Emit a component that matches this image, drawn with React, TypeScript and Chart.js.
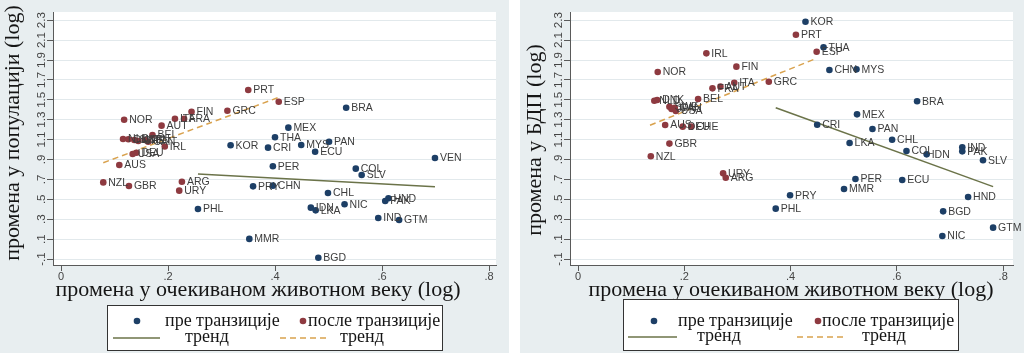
import React, { useEffect, useRef } from "react";
import { Chart, registerables } from "chart.js";

Chart.register(...registerables);

// ---------- shared axis ticks ----------
const yTickValues = [-0.1, 0.1, 0.3, 0.5, 0.7, 0.9, 1.1, 1.3, 1.5, 1.7, 1.9, 2.1, 2.3];
const yTickLabels = ["-.1", ".1", ".3", ".5", ".7", ".9", "1.1", "1.3", "1.5", "1.7", "1.9", "2.1", "2.3"];
const xTickValues = [0, 0.2, 0.4, 0.6, 0.8];
const xTickLabels = ["0", ".2", ".4", ".6", ".8"];

const xTitle = "промена у очекиваном животном веку (log)";
const legendBefore = "пре транзиције";
const legendAfter = "после транзиције";
const legendTrend = "тренд";

// ---------- left panel: population ----------
const popTitle = "промена у популацији (log)";
const popBeforeCodes = ["KOR", "BRA", "MEX", "THA", "CRI", "MYS", "PAN", "ECU", "PER", "VEN", "COL", "SLV", "PRY", "CHN", "CHL", "IDN", "LKA", "NIC", "HND", "PAK", "IND", "GTM", "MMR", "BGD", "PHL"];
const popBeforeX = [0.317, 0.533, 0.425, 0.4, 0.387, 0.449, 0.501, 0.475, 0.396, 0.699, 0.551, 0.562, 0.359, 0.396, 0.499, 0.467, 0.476, 0.53, 0.612, 0.606, 0.593, 0.632, 0.352, 0.481, 0.256];
const popBeforeY = [1.043, 1.42, 1.22, 1.123, 1.019, 1.046, 1.079, 0.978, 0.832, 0.915, 0.808, 0.744, 0.63, 0.637, 0.563, 0.416, 0.389, 0.45, 0.51, 0.483, 0.312, 0.292, 0.102, -0.087, 0.402];
const popAfterCodes = ["NOR", "AUT", "FIN", "ITA", "FRA", "GRC", "PRT", "ESP", "BEL", "NLD", "DNK", "SWE", "CHE", "JPN", "CAN", "IRL", "USA", "DEU", "AUS", "NZL", "GBR", "ARG", "URY"];
const popAfterX = [0.118, 0.188, 0.244, 0.213, 0.23, 0.311, 0.35, 0.407, 0.171, 0.116, 0.126, 0.137, 0.1445, 0.157, 0.163, 0.194, 0.134, 0.141, 0.109, 0.079, 0.127, 0.226, 0.221];
const popAfterY = [1.3, 1.24, 1.38, 1.31, 1.31, 1.39, 1.598, 1.48, 1.146, 1.106, 1.103, 1.096, 1.086, 1.096, 1.079, 1.03, 0.955, 0.968, 0.845, 0.67, 0.634, 0.677, 0.587];
const popTrendBeforeX = [0.256, 0.699];
const popTrendBeforeY = [0.754, 0.627];
const popTrendAfterX = [0.079, 0.407];
const popTrendAfterY = [0.868, 1.525];

// ---------- right panel: GDP ----------
const gdpTitle = "промена у БДП (log)";
const gdpBeforeCodes = ["KOR", "THA", "CHN", "MYS", "MEX", "BRA", "CRI", "PAN", "CHL", "LKA", "COL", "IDN", "IND", "PAK", "SLV", "PER", "ECU", "MMR", "PRY", "PHL", "HND", "BGD", "NIC", "GTM"];
const gdpBeforeX = [0.428, 0.462, 0.473, 0.524, 0.525, 0.638, 0.45, 0.554, 0.591, 0.511, 0.618, 0.656, 0.723, 0.723, 0.762, 0.522, 0.61, 0.5005, 0.399, 0.372, 0.734, 0.687, 0.6855, 0.781];
const gdpBeforeY = [2.285, 2.028, 1.799, 1.806, 1.354, 1.485, 1.25, 1.207, 1.099, 1.066, 0.985, 0.952, 1.023, 0.982, 0.892, 0.704, 0.694, 0.603, 0.54, 0.406, 0.523, 0.379, 0.131, 0.215];
const gdpAfterCodes = ["PRT", "ESP", "IRL", "FIN", "NOR", "GRC", "ITA", "AUT", "FRA", "BEL", "NLD", "DNK", "SWE", "JPN", "CAN", "USA", "AUS", "DEU", "CHE", "GBR", "NZL", "URY", "ARG"];
const gdpAfterX = [0.41, 0.449, 0.2415, 0.298, 0.15, 0.359, 0.294, 0.268, 0.253, 0.226, 0.1436, 0.149, 0.172, 0.176, 0.182, 0.184, 0.164, 0.197, 0.213, 0.172, 0.137, 0.273, 0.278];
const gdpAfterY = [2.154, 1.983, 1.967, 1.833, 1.779, 1.682, 1.672, 1.632, 1.615, 1.508, 1.49, 1.498, 1.43, 1.407, 1.42, 1.387, 1.246, 1.23, 1.23, 1.06, 0.932, 0.761, 0.717];
const gdpTrendBeforeX = [0.372, 0.781];
const gdpTrendBeforeY = [1.42, 0.627];
const gdpTrendAfterX = [0.1355, 0.449];
const gdpTrendAfterY = [1.244, 1.917];

// ---------- styles ----------
const BG = "#e8eef0";
const GRID = "#e2e9ec";
const AXIS = "#5a5a5a";
const NAVY = "#1d3f66";
const MAROON = "#8e3a40";
const SOLID = "#6b7349";
const DASHED = "#d9a24e";
const LABEL = "#3d3d3d";
const TEXT = "#151515";
const SERIF = '"Liberation Serif", "Times New Roman", serif';
const SANS = '"Liberation Sans", Arial, sans-serif';

type PanelCfg = {
  width: number;
  left: number;
  axisX: number; // y-axis pixel (local)
  plotRight: number;
  xMin: number;
  xMax: number;
  yTitle: string;
  yTitleCenter: number;
  yTitleX: number;
  yTickX: number;
  xTitleCenter: number;
  legendBox: [number, number, number, number];
  legendPos: { dotB: number; txtB: number; dotA: number; txtA: number; lineB: [number, number]; txtLB: number; lineA: [number, number]; txtLA: number; row1: number; row2: number };
  before: { codes: string[]; x: number[]; y: number[] };
  after: { codes: string[]; x: number[]; y: number[] };
  trendB: { x: number[]; y: number[] };
  trendA: { x: number[]; y: number[] };
};

const TOP = 12;
const BOTTOM = 265;
const H = 353;

function toPts(xs: number[], ys: number[]) {
  return xs.map((x, i) => ({ x, y: ys[i] }));
}

function Panel({ cfg }: { cfg: PanelCfg }) {
  const ref = useRef<HTMLCanvasElement | null>(null);
  useEffect(() => {
    if (!ref.current) return;
    const drawPlugin = {
      id: "stataLook",
      beforeDraw(chart: any) {
        const { ctx, chartArea } = chart;
        ctx.save();
        ctx.fillStyle = BG;
        ctx.fillRect(0, 0, chart.width, chart.height);
        ctx.fillStyle = "#ffffff";
        ctx.fillRect(chartArea.left, chartArea.top, chartArea.right - chartArea.left, chartArea.bottom - chartArea.top);
        ctx.restore();
      },
      afterDatasetsDraw(chart: any) {
        const { ctx } = chart;
        ctx.save();
        ctx.font = `10.5px ${SANS}`;
        ctx.fillStyle = LABEL;
        ctx.textAlign = "left";
        ctx.textBaseline = "middle";
        chart.data.datasets.forEach((ds: any, di: number) => {
          if (!ds.codes) return;
          const meta = chart.getDatasetMeta(di);
          meta.data.forEach((el: any, i: number) => {
            ctx.fillText(ds.codes[i], el.x + 5, el.y + 0.5);
          });
        });
        ctx.restore();
      },
      afterDraw(chart: any) {
        const { ctx, scales } = chart;
        const xs = scales.x;
        const ys = scales.y;
        ctx.save();
        // y tick labels rotated
        ctx.fillStyle = "#444";
        ctx.font = `11.5px ${SANS}`;
        ctx.textAlign = "center";
        ctx.textBaseline = "middle";
        yTickValues.forEach((v, i) => {
          const py = ys.getPixelForValue(v);
          ctx.save();
          ctx.translate(cfg.yTickX, py);
          ctx.rotate(-Math.PI / 2);
          ctx.fillText(yTickLabels[i], 0, 0);
          ctx.restore();
        });
        // x tick labels
        ctx.font = `11px ${SANS}`;
        ctx.textBaseline = "middle";
        xTickValues.forEach((v, i) => {
          ctx.fillText(xTickLabels[i], xs.getPixelForValue(v), 277);
        });
        // axis titles
        ctx.fillStyle = TEXT;
        ctx.font = `22px ${SERIF}`;
        ctx.textAlign = "center";
        ctx.textBaseline = "middle";
        ctx.fillText(xTitle, cfg.xTitleCenter, 290);
        ctx.save();
        ctx.translate(cfg.yTitleX, cfg.yTitleCenter);
        ctx.rotate(-Math.PI / 2);
        ctx.fillText(cfg.yTitle, 0, 0);
        ctx.restore();
        // legend box
        const [bx, by, bw, bh] = cfg.legendBox;
        ctx.fillStyle = "#ffffff";
        ctx.fillRect(bx, by, bw, bh);
        ctx.strokeStyle = "#333";
        ctx.lineWidth = 1;
        ctx.strokeRect(bx + 0.5, by + 0.5, bw, bh);
        const L = cfg.legendPos;
        ctx.fillStyle = NAVY;
        ctx.beginPath();
        ctx.arc(L.dotB, L.row1, 3.3, 0, Math.PI * 2);
        ctx.fill();
        ctx.fillStyle = MAROON;
        ctx.beginPath();
        ctx.arc(L.dotA, L.row1, 3.3, 0, Math.PI * 2);
        ctx.fill();
        ctx.fillStyle = TEXT;
        ctx.font = `18px ${SERIF}`;
        ctx.textAlign = "left";
        ctx.fillText(legendBefore, L.txtB, L.row1);
        ctx.fillText(legendAfter, L.txtA, L.row1);
        ctx.fillText(legendTrend, L.txtLB, L.row2);
        ctx.fillText(legendTrend, L.txtLA, L.row2);
        ctx.lineWidth = 1.5;
        ctx.strokeStyle = SOLID;
        ctx.beginPath();
        ctx.moveTo(L.lineB[0], L.row2 + 1);
        ctx.lineTo(L.lineB[1], L.row2 + 1);
        ctx.stroke();
        ctx.strokeStyle = DASHED;
        ctx.setLineDash([6, 4]);
        ctx.beginPath();
        ctx.moveTo(L.lineA[0], L.row2 + 1);
        ctx.lineTo(L.lineA[1], L.row2 + 1);
        ctx.stroke();
        ctx.restore();
      },
    };

    const chart = new Chart(ref.current, {
      type: "scatter",
      data: {
        datasets: [
          {
            data: toPts(cfg.before.x, cfg.before.y),
            codes: cfg.before.codes,
            backgroundColor: NAVY,
            borderColor: NAVY,
            pointRadius: 3.3,
            borderWidth: 0,
            order: 0,
          } as any,
          {
            data: toPts(cfg.after.x, cfg.after.y),
            codes: cfg.after.codes,
            backgroundColor: MAROON,
            borderColor: MAROON,
            pointRadius: 3.3,
            borderWidth: 0,
            order: 0,
          } as any,
          {
            data: toPts(cfg.trendB.x, cfg.trendB.y),
            showLine: true,
            pointRadius: 0,
            borderColor: SOLID,
            borderWidth: 1.5,
            order: 1,
          },
          {
            data: toPts(cfg.trendA.x, cfg.trendA.y),
            showLine: true,
            pointRadius: 0,
            borderColor: DASHED,
            borderWidth: 1.5,
            borderDash: [6, 4],
            order: 1,
          },
        ],
      },
      options: {
        animation: false,
        responsive: false,
        devicePixelRatio: 1,
        layout: { padding: { left: 0, top: TOP, right: cfg.width - cfg.plotRight, bottom: 0 } },
        plugins: { legend: { display: false }, tooltip: { enabled: false } },
        scales: {
          x: {
            type: "linear",
            min: cfg.xMin,
            max: cfg.xMax,
            afterBuildTicks: (s: any) => {
              s.ticks = xTickValues.map((v) => ({ value: v }));
            },
            afterFit: (s: any) => {
              s.height = H - BOTTOM;
            },
            ticks: { display: false },
            grid: { drawOnChartArea: false, drawTicks: true, tickLength: 6, tickColor: AXIS, color: GRID },
            border: { color: AXIS, width: 1 },
          },
          y: {
            type: "linear",
            min: -0.1 - (BOTTOM - 259) / 99.5,
            max: -0.1 - (BOTTOM - 259) / 99.5 + (BOTTOM - TOP) / 99.5,
            afterBuildTicks: (s: any) => {
              s.ticks = yTickValues.map((v) => ({ value: v }));
            },
            afterFit: (s: any) => {
              s.width = cfg.axisX;
            },
            ticks: { display: false },
            grid: { drawOnChartArea: true, drawTicks: true, tickLength: 6, tickColor: AXIS, color: GRID, lineWidth: 1 },
            border: { color: AXIS, width: 1 },
          },
        },
      } as any,
      plugins: [drawPlugin],
    });
    return () => chart.destroy();
  }, [cfg]);
  return (
    <canvas
      ref={ref}
      width={cfg.width}
      height={H}
      style={{ position: "absolute", left: cfg.left, top: 0, width: cfg.width, height: H }}
    />
  );
}

const leftCfg: PanelCfg = {
  width: 509,
  left: 0,
  axisX: 53,
  plotRight: 496,
  xMin: -8 / 535,
  xMax: (496 - 61) / 535,
  yTitle: popTitle,
  yTitleCenter: 133,
  yTitleX: 13,
  yTickX: 42,
  xTitleCenter: 258,
  legendBox: [107, 305, 335, 45],
  legendPos: { dotB: 137, txtB: 165, dotA: 303, txtA: 308, lineB: [113, 160], txtLB: 185, lineA: [280, 328], txtLA: 340, row1: 321, row2: 337 },
  before: { codes: popBeforeCodes, x: popBeforeX, y: popBeforeY },
  after: { codes: popAfterCodes, x: popAfterX, y: popAfterY },
  trendB: { x: popTrendBeforeX, y: popTrendBeforeY },
  trendA: { x: popTrendAfterX, y: popTrendAfterY },
};

const rightCfg: PanelCfg = {
  width: 504,
  left: 520,
  axisX: 50,
  plotRight: 493,
  xMin: -8 / 531.5,
  xMax: (1013 - 578) / 531.5,
  yTitle: gdpTitle,
  yTitleCenter: 140,
  yTitleX: 15,
  yTickX: 39,
  xTitleCenter: 271,
  legendBox: [103, 299, 335, 51],
  legendPos: { dotB: 134, txtB: 158, dotA: 298, txtA: 302, lineB: [108, 157], txtLB: 177, lineA: [277, 325], txtLA: 342, row1: 321, row2: 336 },
  before: { codes: gdpBeforeCodes, x: gdpBeforeX, y: gdpBeforeY },
  after: { codes: gdpAfterCodes, x: gdpAfterX, y: gdpAfterY },
  trendB: { x: gdpTrendBeforeX, y: gdpTrendBeforeY },
  trendA: { x: gdpTrendAfterX, y: gdpTrendAfterY },
};

export default function App() {
  return (
    <div style={{ position: "absolute", left: 0, top: 0, width: 1024, height: H, background: "#ffffff", overflow: "hidden" }}>
      <Panel cfg={leftCfg} />
      <Panel cfg={rightCfg} />
    </div>
  );
}
